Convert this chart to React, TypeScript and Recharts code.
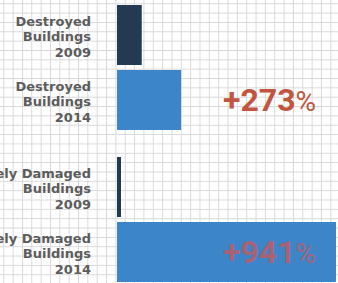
import React from 'react';
import { BarChart, Bar, XAxis, YAxis, Cell, LabelList } from 'recharts';

const categories = [
  'Destroyed\nBuildings\n2009',
  'Destroyed\nBuildings\n2014',
  'Severely Damaged\nBuildings\n2009',
  'Severely Damaged\nBuildings\n2014',
];
const years = [2009, 2014, 2009, 2014];
const values = [11.2, 29, 1.8, 99.1];
const changes = ['', '+273%', '', '+941%'];

const rows = categories.map((name, i) => ({
  name,
  year: years[i],
  value: values[i],
  change: changes[i],
}));

const colorFor = (y: number) => (y === 2009 ? '#243a52' : '#3d85c9');

const Tick = (props: any) => {
  const { x, y, payload } = props;
  const lines = String(payload.value).split('\n');
  return (
    <text
      x={x}
      y={y}
      textAnchor="end"
      fontFamily="DejaVu Sans"
      fontWeight="bold"
      fontSize={13}
      fill="#5c5c5c"
    >
      {lines.map((l, i) => (
        <tspan key={i} x={x} y={y - 9 + i * 15.5}>
          {l}
        </tspan>
      ))}
    </text>
  );
};

const ChangeLabel = (onBar: boolean) => (props: any) => {
  const { x, y, height, value } = props;
  if (!value) return null;
  const num = String(value).replace('%', '');
  return (
    <text
      x={x + 106}
      y={y + height / 2 + 11}
      fontFamily="Roboto"
      fill={onBar ? '#d9534f' : '#c1553f'}
      fillOpacity={onBar ? 0.7 : 1}
    >
      <tspan fontSize={32} fontWeight="bold">{num}</tspan>
      <tspan fontSize={28} fontWeight="normal">%</tspan>
    </text>
  );
};

const Panel = ({ data, top, onBar }: { data: any[]; top: number; onBar: boolean }) => (
  <div style={{ position: 'absolute', left: 0, top }}>
    <BarChart
      width={338}
      height={130}
      data={data}
      layout="vertical"
      margin={{ top: 0, right: 0, bottom: 0, left: 0 }}
    >
      <XAxis type="number" domain={[0, 100]} hide allowDataOverflow />
      <YAxis
        type="category"
        dataKey="name"
        width={117}
        tickLine={false}
        axisLine={false}
        tickSize={0}
        tickMargin={26}
        tick={<Tick />}
        interval={0}
      />
      <Bar dataKey="value" barSize={60} isAnimationActive={false}>
        {data.map((d, i) => (
          <Cell key={i} fill={colorFor(d.year)} />
        ))}
        <LabelList dataKey="change" content={ChangeLabel(onBar)} />
      </Bar>
    </BarChart>
  </div>
);

export default function App() {
  return (
    <div
      style={{
        position: 'absolute',
        left: 0,
        top: 0,
        width: 338,
        height: 283,
        overflow: 'hidden',
        backgroundColor: '#ffffff',
        backgroundImage:
          'linear-gradient(to right, #d8d8d8 1px, transparent 1px), linear-gradient(to bottom, #d8d8d8 1px, transparent 1px)',
        backgroundSize: '9.35px 9.35px',
        backgroundPosition: '3.3px 3.3px',
      }}
    >
      <Panel data={rows.slice(0, 2)} top={2} onBar={false} />
      <Panel data={rows.slice(2, 4)} top={154} onBar={true} />
    </div>
  );
}
